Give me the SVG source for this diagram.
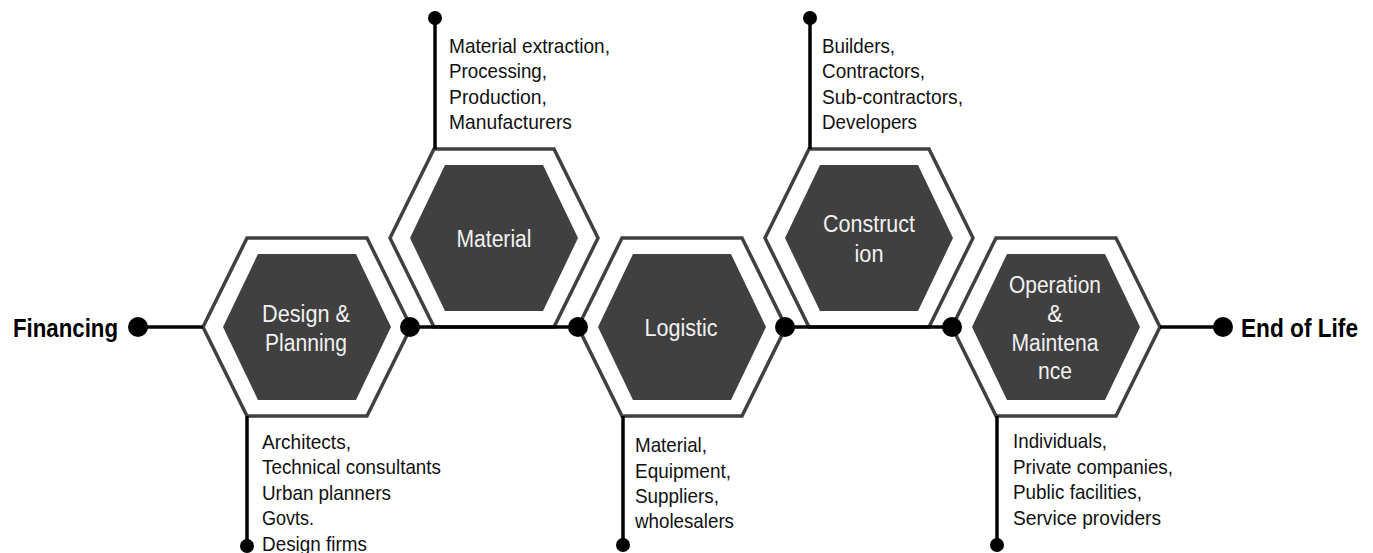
<svg xmlns="http://www.w3.org/2000/svg" width="1373" height="553" viewBox="0 0 1373 553">
<defs>
<style>
.outer{fill:#ffffff;stroke:#404040;stroke-width:3.5;stroke-linejoin:miter}
.inner{fill:#404040}
.lbl{font-family:"Liberation Sans",Arial,sans-serif;font-size:23px;fill:#f2f2f2;text-anchor:middle}
.desc{font-family:"Liberation Sans",Arial,sans-serif;font-size:21px;fill:#111111}
.end{font-family:"Liberation Sans",Arial,sans-serif;font-size:26px;font-weight:bold;fill:#000000}
.ln{stroke:#000000;stroke-width:3.5;fill:none}
.dot{fill:#000000}
</style>
<polygon id="hexOuter" points="-104,0 -60,-89 60,-89 104,0 60,89 -60,89"/>
<polygon id="hexInner" points="-84,0 -49,-73 49,-73 84,0 49,73 -49,73"/>
</defs>
<rect width="1373" height="553" fill="#ffffff"/>

<g id="node-design">
<use href="#hexOuter" class="outer" transform="translate(307,327)"/>
<use href="#hexInner" class="inner" transform="translate(307,327)"/>
<text class="lbl" x="306" y="322" textLength="88" lengthAdjust="spacingAndGlyphs">Design &amp;</text>
<text class="lbl" x="306" y="351" textLength="82" lengthAdjust="spacingAndGlyphs">Planning</text>
</g>

<g id="node-material">
<use href="#hexOuter" class="outer" transform="translate(494,238)"/>
<use href="#hexInner" class="inner" transform="translate(494,238)"/>
<text class="lbl" x="494" y="247" textLength="75" lengthAdjust="spacingAndGlyphs">Material</text>
</g>

<g id="node-logistic">
<use href="#hexOuter" class="outer" transform="translate(682,327)"/>
<use href="#hexInner" class="inner" transform="translate(682,327)"/>
<text class="lbl" x="681" y="336" textLength="73" lengthAdjust="spacingAndGlyphs">Logistic</text>
</g>

<g id="node-construction">
<use href="#hexOuter" class="outer" transform="translate(869,238)"/>
<use href="#hexInner" class="inner" transform="translate(869,238)"/>
<text class="lbl" x="869" y="232" textLength="92" lengthAdjust="spacingAndGlyphs">Construct</text>
<text class="lbl" x="869" y="262" textLength="29" lengthAdjust="spacingAndGlyphs">ion</text>
</g>

<g id="node-operation">
<use href="#hexOuter" class="outer" transform="translate(1056,327)"/>
<use href="#hexInner" class="inner" transform="translate(1056,327)"/>
<text class="lbl" x="1055" y="293" textLength="92" lengthAdjust="spacingAndGlyphs">Operation</text>
<text class="lbl" x="1055" y="322">&amp;</text>
<text class="lbl" x="1055" y="351" textLength="87" lengthAdjust="spacingAndGlyphs">Maintena</text>
<text class="lbl" x="1055" y="379" textLength="34" lengthAdjust="spacingAndGlyphs">nce</text>
</g>

<g id="connectors">
<line class="ln" x1="138" y1="327" x2="203" y2="327"/>
<line class="ln" x1="410" y1="327" x2="578" y2="327"/>
<line class="ln" x1="785" y1="327" x2="952" y2="327"/>
<line class="ln" x1="1160" y1="327" x2="1223" y2="327"/>
<line class="ln" x1="435" y1="149" x2="435" y2="18"/>
<line class="ln" x1="810" y1="149" x2="810" y2="18"/>
<line class="ln" x1="247" y1="416" x2="247" y2="546"/>
<line class="ln" x1="623" y1="416" x2="623" y2="545"/>
<line class="ln" x1="997" y1="416" x2="997" y2="545"/>
<circle class="dot" cx="138" cy="327" r="10"/>
<circle class="dot" cx="410" cy="327" r="10"/>
<circle class="dot" cx="578" cy="327" r="10"/>
<circle class="dot" cx="785" cy="327" r="10"/>
<circle class="dot" cx="952" cy="327" r="10"/>
<circle class="dot" cx="1223" cy="327" r="10"/>
<circle class="dot" cx="435" cy="18" r="7"/>
<circle class="dot" cx="810" cy="18" r="7"/>
<circle class="dot" cx="247" cy="546" r="7"/>
<circle class="dot" cx="623" cy="545" r="7"/>
<circle class="dot" cx="997" cy="545" r="7"/>
</g>

<g id="node-financing">
<text class="end" x="13" y="337" textLength="105" lengthAdjust="spacingAndGlyphs">Financing</text>
</g>
<g id="node-endoflife">
<text class="end" x="1241" y="337" textLength="117" lengthAdjust="spacingAndGlyphs">End of Life</text>
</g>

<g id="label-material">
<text class="desc" x="449" y="53" textLength="161" lengthAdjust="spacingAndGlyphs">Material extraction,</text>
<text class="desc" x="449" y="78" textLength="98" lengthAdjust="spacingAndGlyphs">Processing,</text>
<text class="desc" x="449" y="104" textLength="98" lengthAdjust="spacingAndGlyphs">Production,</text>
<text class="desc" x="449" y="129" textLength="123" lengthAdjust="spacingAndGlyphs">Manufacturers</text>
</g>

<g id="label-construction">
<text class="desc" x="822" y="53" textLength="73" lengthAdjust="spacingAndGlyphs">Builders,</text>
<text class="desc" x="822" y="78" textLength="103" lengthAdjust="spacingAndGlyphs">Contractors,</text>
<text class="desc" x="822" y="104" textLength="141" lengthAdjust="spacingAndGlyphs">Sub-contractors,</text>
<text class="desc" x="822" y="129" textLength="95" lengthAdjust="spacingAndGlyphs">Developers</text>
</g>

<g id="label-design">
<text class="desc" x="262" y="449" textLength="89" lengthAdjust="spacingAndGlyphs">Architects,</text>
<text class="desc" x="262" y="474" textLength="179" lengthAdjust="spacingAndGlyphs">Technical consultants</text>
<text class="desc" x="262" y="500" textLength="129" lengthAdjust="spacingAndGlyphs">Urban planners</text>
<text class="desc" x="262" y="525" textLength="52" lengthAdjust="spacingAndGlyphs">Govts.</text>
<text class="desc" x="262" y="551" textLength="105" lengthAdjust="spacingAndGlyphs">Design firms</text>
</g>

<g id="label-logistic">
<text class="desc" x="635" y="452" textLength="72" lengthAdjust="spacingAndGlyphs">Material,</text>
<text class="desc" x="635" y="478" textLength="96" lengthAdjust="spacingAndGlyphs">Equipment,</text>
<text class="desc" x="635" y="503" textLength="84" lengthAdjust="spacingAndGlyphs">Suppliers,</text>
<text class="desc" x="635" y="528" textLength="99" lengthAdjust="spacingAndGlyphs">wholesalers</text>
</g>

<g id="label-operation">
<text class="desc" x="1013" y="448" textLength="94" lengthAdjust="spacingAndGlyphs">Individuals,</text>
<text class="desc" x="1013" y="474" textLength="160" lengthAdjust="spacingAndGlyphs">Private companies,</text>
<text class="desc" x="1013" y="499" textLength="129" lengthAdjust="spacingAndGlyphs">Public facilities,</text>
<text class="desc" x="1013" y="525" textLength="148" lengthAdjust="spacingAndGlyphs">Service providers</text>
</g>
</svg>
